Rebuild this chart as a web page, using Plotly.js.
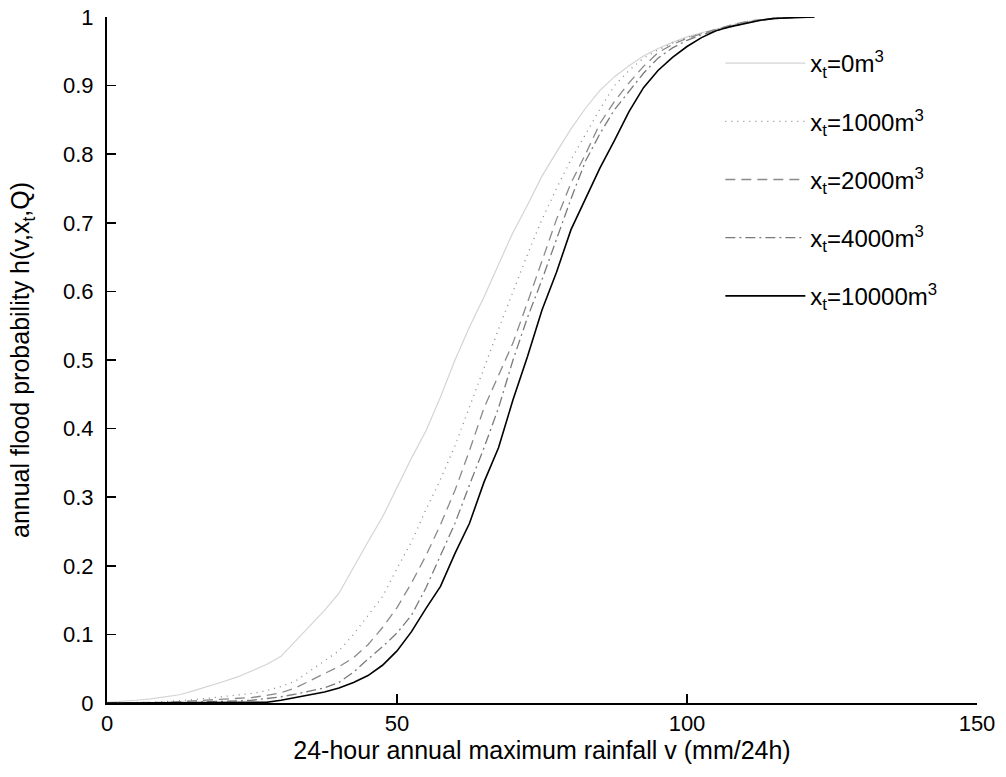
<!DOCTYPE html>
<html>
<head>
<meta charset="utf-8">
<script src="https://cdn.plot.ly/plotly-3.0.1.min.js"></script>
<style>html,body{margin:0;padding:0;background:#fff;}#chart{width:1006px;height:777px;}</style>
</head>
<body>
<div id="chart"></div>
<script>
// rainfall grid (mm/24h)
const rainfall = [0,2.5,5,7.5,10,12.5,15,17.5,20,22.5,25,27.5,30,32.5,35,37.5,40,42.5,45,47.5,50,52.5,55,57.5,60,62.5,65,67.5,70,72.5,75,77.5,80,82.5,85,87.5,90,92.5,95,97.5,100,102.5,105,107.5,110,112.5,115,117.5,120,122];

const h_xt0 = [0.001,0.002,0.004,0.006,0.009,0.012,0.018,0.024,0.031,0.038,0.047,0.056,0.068,0.09,0.113,0.135,0.16,0.198,0.235,0.271,0.315,0.357,0.397,0.446,0.5,0.548,0.592,0.64,0.686,0.726,0.768,0.803,0.837,0.867,0.893,0.913,0.929,0.943,0.954,0.963,0.971,0.977,0.982,0.988,0.993,0.996,0.998,0.999,1.0,1.0];

const h_xt1000 = [0,0,0.001,0.001,0.002,0.003,0.005,0.007,0.009,0.011,0.014,0.018,0.024,0.032,0.047,0.062,0.076,0.1,0.127,0.155,0.196,0.235,0.282,0.326,0.375,0.43,0.488,0.545,0.6,0.654,0.705,0.75,0.792,0.83,0.866,0.9,0.922,0.94,0.952,0.962,0.97,0.976,0.982,0.988,0.993,0.996,0.998,0.999,1.0,1.0];

const h_xt2000 = [0,0,0,0.001,0.001,0.002,0.003,0.004,0.005,0.006,0.008,0.011,0.015,0.022,0.033,0.043,0.053,0.066,0.085,0.11,0.139,0.175,0.215,0.26,0.31,0.368,0.43,0.478,0.525,0.584,0.645,0.705,0.758,0.8,0.845,0.877,0.904,0.928,0.948,0.96,0.969,0.976,0.982,0.988,0.993,0.996,0.998,0.999,1.0,1.0];

const h_xt4000 = [0,0,0,0,0,0.001,0.001,0.002,0.002,0.003,0.004,0.006,0.009,0.013,0.017,0.022,0.03,0.045,0.064,0.082,0.102,0.128,0.168,0.214,0.262,0.318,0.372,0.43,0.5,0.562,0.617,0.676,0.735,0.79,0.83,0.865,0.892,0.918,0.94,0.955,0.966,0.974,0.98,0.986,0.991,0.995,0.998,0.999,1.0,1.0];

const h_xt10000 = [0,0,0,0,0,0,0,0,0,0,0,0.001,0.004,0.008,0.012,0.016,0.022,0.03,0.04,0.055,0.076,0.104,0.138,0.17,0.218,0.262,0.322,0.372,0.442,0.505,0.573,0.628,0.69,0.735,0.78,0.82,0.862,0.897,0.922,0.941,0.957,0.97,0.98,0.986,0.991,0.995,0.998,0.999,1.0,1.0];

const seriesNames = ['x<sub>t</sub>=0m<sup>3</sup>','x<sub>t</sub>=1000m<sup>3</sup>','x<sub>t</sub>=2000m<sup>3</sup>','x<sub>t</sub>=4000m<sup>3</sup>','x<sub>t</sub>=10000m<sup>3</sup>'];
const seriesData = [h_xt0, h_xt1000, h_xt2000, h_xt4000, h_xt10000];
const xTicks = [0,50,100,150];
const yTicks = [0,0.1,0.2,0.3,0.4,0.5,0.6,0.7,0.8,0.9,1];

const styles = [
  {color:'#d4d4d4', width:1.2, dash:'solid'},
  {color:'#8a8a8a', width:1.3, dash:'1px,5px'},
  {color:'#8a8a8a', width:1.3, dash:'10px,6px'},
  {color:'#7a7a7a', width:1.3, dash:'10px,4px,2px,4px'},
  {color:'#000000', width:1.6, dash:'solid'}
];

const traces = seriesData.map((ys, i) => ({
  x: rainfall, y: ys, type:'scatter', mode:'lines', name: seriesNames[i],
  legendgroup: 'g'+i,
  line: {color: styles[i].color, width: styles[i].width, dash: styles[i].dash}
}));

const fam = 'Arial, "Liberation Sans", sans-serif';

const layout = {
  width:1006, height:777,
  margin:{l:107, r:29, t:17, b:74, pad:0},
  paper_bgcolor:'#fff', plot_bgcolor:'#fff',
  font: {family:fam, size:20, color:'#000'},
  showlegend:true,
  legend:{x:0.705, y:0.965, xanchor:'left', yanchor:'top', bgcolor:'rgba(0,0,0,0)', borderwidth:0,
          font:{family:fam, size:24, color:'#000'}, traceorder:'grouped', tracegroupgap:24, itemwidth:80},
  xaxis:{range:[0,150], tickvals:xTicks, ticktext:xTicks.map(String), ticks:'inside', ticklen:9, tickwidth:1.5, tickcolor:'#000',
         showline:true, linecolor:'#000', linewidth:2, showgrid:false, zeroline:false, mirror:false,
         tickfont:{family:fam, size:22, color:'#000'},
         title:{text:'24-hour annual maximum rainfall v (mm/24h)', font:{family:fam, size:25, color:'#000'}, standoff:2}},
  yaxis:{range:[0,1], tickvals:yTicks, ticktext:yTicks.map(String), ticks:'inside', ticklen:9, tickwidth:1.5, tickcolor:'#000',
         showline:true, linecolor:'#000', linewidth:2, showgrid:false, zeroline:false, mirror:false,
         tickfont:{family:fam, size:22, color:'#000'}, ticklabelstandoff:7,
         title:{text:'annual flood probability h(v,x<sub>t</sub>,Q)', font:{family:fam, size:25, color:'#000'}, standoff:26}}
};

Plotly.newPlot('chart', traces, layout, {displayModeBar:false, staticPlot:true});
</script>
</body>
</html>
